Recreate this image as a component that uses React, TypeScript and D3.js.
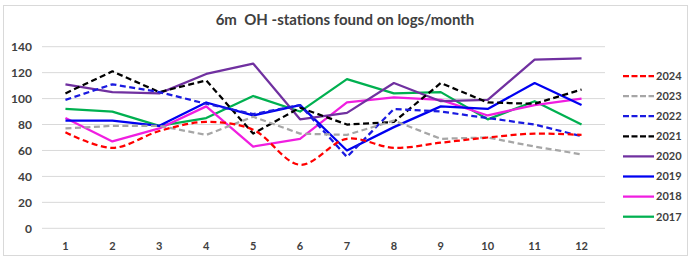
import React from "react";
import * as d3 from "d3";

const months = ["1", "2", "3", "4", "5", "6", "7", "8", "9", "10", "11", "12"];
const yTicks = [0, 20, 40, 60, 80, 100, 120, 140];

const s2024 = [74, 62, 75, 82, 76, 49, 69, 62, 66, 70, 73, 72];
const s2023 = [77, 79, 79, 72, 86, 73, 72, 83, 69, 70, 63, 57];
const s2022 = [99, 111, 105, 96, 88, 95, 55, 92, 90, 85, 80, 71];
const s2021 = [104, 121, 105, 114, 73, 93, 80, 82, 112, 97, 96, 107];
const s2020 = [111, 105, 104, 119, 127, 84, 89, 112, 98, 99, 130, 131];
const s2019 = [83, 83, 79, 97, 87, 95, 60, 78, 94, 92, 112, 95];
const s2018 = [85, 67, 77, 94, 63, 69, 97, 101, 99, 87, 95, 100];
const s2017 = [92, 90, 79, 85, 102, 90, 115, 104, 105, 84, 98, 80];

const seriesNames = ["2024", "2023", "2022", "2021", "2020", "2019", "2018", "2017"];
const seriesValues = [s2024, s2023, s2022, s2021, s2020, s2019, s2018, s2017];
const seriesColors = ["#ff0000", "#a6a6a6", "#1a1ae0", "#000000", "#7030a0", "#0000f0", "#f01ee0", "#00b050"];
const seriesDashed = [true, true, true, true, false, false, false, false];
const seriesSmooth = [true, false, false, false, false, false, false, false];

const W = 692;
const H = 261;
const plotLeft = 42;
const plotRight = 605;
const plotTop = 46.7;
const plotBottom = 228.3;
const font = "Lato, 'Liberation Sans', sans-serif";
const textColor = "#404040";

export default function App() {
  const x = d3.scaleBand().domain(months).range([plotLeft, plotRight]);
  const y = d3.scaleLinear().domain([0, 140]).range([plotBottom, plotTop]);

  const makeLine = (smooth: boolean) =>
    d3
      .line<number>()
      .x((_, i) => (x(months[i]) as number) + x.bandwidth() / 2)
      .y((d) => y(d))
      .curve(smooth ? d3.curveCatmullRom.alpha(0.5) : d3.curveLinear);

  return (
    <div style={{ position: "fixed", left: 0, top: 0, width: W, height: H, background: "#fff" }}>
      <svg width={W} height={H} style={{ display: "block" }}>
        <rect x={0} y={0} width={W} height={H} fill="#ffffff" />
        <rect x={3.5} y={5.5} width={684} height={250} fill="none" stroke="#d9d9d9" strokeWidth={1} />
        <text
          x={345}
          y={25}
          textAnchor="middle"
          fontFamily={font}
          fontWeight={700}
          fontSize={15}
          fill={textColor}
          style={{ whiteSpace: "pre" }}
        >
          {"6m  OH -stations found on logs/month"}
        </text>
        {yTicks.map((t) => (
          <g key={t}>
            <line x1={plotLeft} x2={plotRight} y1={y(t)} y2={y(t)} stroke="#d9d9d9" strokeWidth={1} />
            <text
              x={32}
              y={y(t)}
              dy="0.35em"
              textAnchor="end"
              fontFamily={font}
              fontWeight={700}
              fontSize={12}
              fill={textColor}
            >
              {t}
            </text>
          </g>
        ))}
        {months.map((m) => (
          <text
            key={m}
            x={(x(m) as number) + x.bandwidth() / 2}
            y={246}
            dy="0.35em"
            textAnchor="middle"
            fontFamily={font}
            fontWeight={700}
            fontSize={11}
            fill={textColor}
          >
            {m}
          </text>
        ))}
        {seriesValues
          .map((vals, i) => ({ vals, i }))
          .reverse()
          .map(({ vals, i }) => (
            <path
              key={seriesNames[i]}
              d={makeLine(seriesSmooth[i])(vals) as string}
              fill="none"
              stroke={seriesColors[i]}
              strokeWidth={2.25}
              strokeDasharray={seriesDashed[i] ? "6,3.5" : undefined}
              strokeLinejoin="round"
            />
          ))}
        {seriesNames.map((n, i) => {
          const ly = 76 + i * 20.1;
          return (
            <g key={n}>
              <line
                x1={623}
                x2={654}
                y1={ly}
                y2={ly}
                stroke={seriesColors[i]}
                strokeWidth={2.25}
                strokeDasharray={seriesDashed[i] ? "6,2.5" : undefined}
              />
              <text
                x={656}
                y={ly}
                dy="0.35em"
                fontFamily={font}
                fontWeight={700}
                fontSize={11}
                fill={textColor}
              >
                {n}
              </text>
            </g>
          );
        })}
      </svg>
    </div>
  );
}
